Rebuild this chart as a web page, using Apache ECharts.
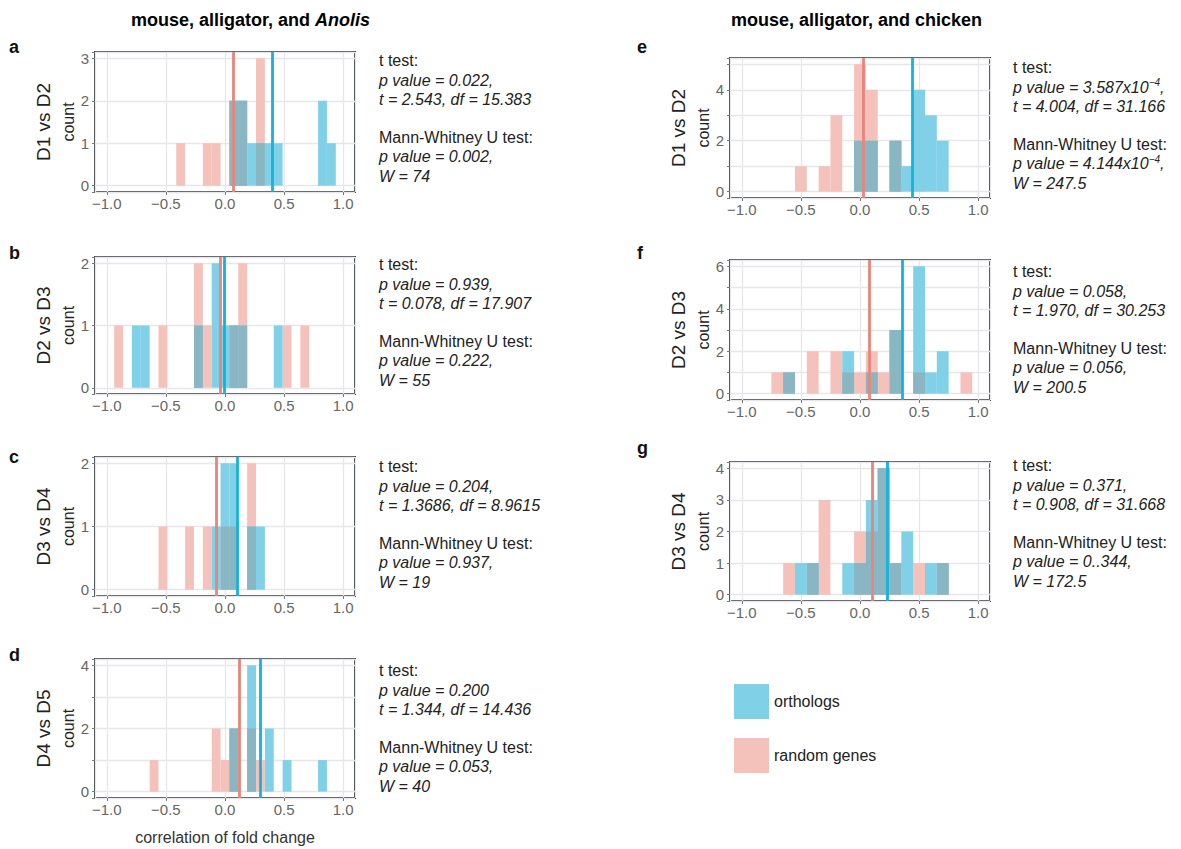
<!DOCTYPE html>
<html>
<head>
<meta charset="utf-8">
<title>correlation of fold change</title>
<script src="https://cdn.jsdelivr.net/npm/echarts@6/dist/echarts.min.js"></script>
<style>
  html, body { margin: 0; padding: 0; background: #fff; }
  #chart { width: 1181px; height: 849px; }
</style>
</head>
<body>
<div id="chart"></div>
<script>
// bin centres and counts
const aBins = [-0.375, -0.15, -0.075, 0.075, 0.15, 0.225, 0.3, 0.375, 0.45, 0.825, 0.9];
const aOrthologs = [0, 0, 0, 2, 2, 1, 1, 1, 1, 2, 1];
const aRandom = [1, 1, 1, 2, 2, 0, 3, 0, 0, 0, 0];
const aMeans = [0.07, 0.40]; // random genes, orthologs

const bBins = [-0.9, -0.75, -0.675, -0.525, -0.225, -0.15, -0.075, 0, 0.075, 0.15, 0.45, 0.525, 0.675];
const bOrthologs = [0, 1, 1, 0, 1, 0, 2, 1, 1, 1, 1, 0, 0];
const bRandom = [1, 0, 0, 1, 2, 1, 0, 0, 1, 2, 0, 1, 1];
const bMeans = [-0.035, -0.01];

const cBins = [-0.525, -0.3, -0.15, -0.075, 0, 0.075, 0.225, 0.3];
const cOrthologs = [0, 0, 0, 1, 2, 2, 1, 1];
const cRandom = [1, 1, 1, 0, 1, 1, 2, 0];
const cMeans = [-0.065, 0.10];

const dBins = [-0.6, -0.075, 0, 0.075, 0.225, 0.3, 0.375, 0.525, 0.825];
const dOrthologs = [0, 0, 0, 2, 4, 0, 2, 1, 1];
const dRandom = [1, 2, 1, 2, 2, 1, 0, 0, 0];
const dMeans = [0.115, 0.305];

const eBins = [-0.5, -0.3, -0.2, 0, 0.1, 0.3, 0.4, 0.5, 0.6, 0.7];
const eOrthologs = [0, 0, 0, 2, 2, 2, 1, 4, 3, 2];
const eRandom = [1, 1, 3, 5, 4, 2, 0, 0, 0, 0];
const eMeans = [0.03, 0.44];

const fBins = [-0.7, -0.6, -0.4, -0.2, -0.1, 0, 0.1, 0.2, 0.3, 0.5, 0.6, 0.7, 0.9];
const fOrthologs = [0, 1, 0, 0, 2, 0, 1, 0, 3, 6, 1, 2, 0];
const fRandom = [1, 1, 2, 2, 1, 1, 2, 1, 3, 1, 0, 0, 1];
const fMeans = [0.08, 0.365];

const gBins = [-0.6, -0.5, -0.4, -0.3, -0.1, 0, 0.1, 0.2, 0.3, 0.4, 0.5, 0.6, 0.7];
const gOrthologs = [0, 1, 1, 0, 1, 1, 3, 4, 1, 2, 0, 1, 1];
const gRandom = [1, 0, 1, 3, 0, 2, 2, 4, 1, 0, 1, 0, 1];
const gMeans = [0.105, 0.225];

// test results: t-test p, t/df, U-test p, W
const aStats = ['p value = 0.022,', 't = 2.543, df = 15.383', 'p value = 0.002,', 'W = 74'];
const bStats = ['p value = 0.939,', 't = 0.078, df = 17.907', 'p value = 0.222,', 'W = 55'];
const cStats = ['p value = 0.204,', 't = 1.3686, df = 8.9615', 'p value = 0.937,', 'W = 19'];
const dStats = ['p value = 0.200', 't = 1.344, df = 14.436', 'p value = 0.053,', 'W = 40'];
const eStats = ['p value = 3.587x10^-4,', 't = 4.004, df = 31.166', 'p value = 4.144x10^-4,', 'W = 247.5'];
const fStats = ['p value = 0.058,', 't = 1.970, df = 30.253', 'p value = 0.056,', 'W = 200.5'];
const gStats = ['p value = 0.371,', 't = 0.908, df = 31.668', 'p value = 0..344,', 'W = 172.5'];

const comparisons = ['D1 vs D2', 'D2 vs D3', 'D3 vs D4', 'D4 vs D5', 'D1 vs D2', 'D2 vs D3', 'D3 vs D4'];
const panelLetters = ['a', 'b', 'c', 'd', 'e', 'f', 'g'];
const yTop = [3, 2, 2, 4, 5, 6, 4];
const yLabelStep = [1, 1, 1, 2, 2, 2, 1];

const FONT = "'Liberation Sans', Arial, Helvetica, sans-serif";
const PINK = '#F4C2BA', BLUE = '#80D0E8', TEAL = '#8AB5C3';
const PINK_LINE = '#E8857A', BLUE_LINE = '#13B3DB';

const panels = [
  { bins: aBins, orth: aOrthologs, rand: aRandom, means: aMeans, stats: aStats, binW: 0.075, left: 95, top: 52, height: 140, textX: 379, textY: 51.4, labX: 43 },
  { bins: bBins, orth: bOrthologs, rand: bRandom, means: bMeans, stats: bStats, binW: 0.075, left: 95, top: 257, height: 137, textX: 379, textY: 255.4, labX: 43 },
  { bins: cBins, orth: cOrthologs, rand: cRandom, means: cMeans, stats: cStats, binW: 0.075, left: 95, top: 457, height: 139, textX: 379, textY: 457.4, labX: 43 },
  { bins: dBins, orth: dOrthologs, rand: dRandom, means: dMeans, stats: dStats, binW: 0.075, left: 95, top: 659, height: 139, textX: 379, textY: 661.4, labX: 43 },
  { bins: eBins, orth: eOrthologs, rand: eRandom, means: eMeans, stats: eStats, binW: 0.1, left: 730, top: 58, height: 140, textX: 1013, textY: 58.4, labX: 678 },
  { bins: fBins, orth: fOrthologs, rand: fRandom, means: fMeans, stats: fStats, binW: 0.1, left: 730, top: 260, height: 140, textX: 1013, textY: 262.4, labX: 678 },
  { bins: gBins, orth: gOrthologs, rand: gRandom, means: gMeans, stats: gStats, binW: 0.1, left: 730, top: 462, height: 139, textX: 1013, textY: 456.4, labX: 678 }
];
const letterY = [47, 253, 457, 655, 47, 253, 448];

function barRender(w, fill) {
  return function (params, api) {
    const n = api.value(1);
    if (!n) return null;
    const c = api.value(0);
    const tl = api.coord([c - w / 2, n]);
    const br = api.coord([c + w / 2, 0]);
    return {
      type: 'rect',
      shape: { x: tl[0], y: tl[1], width: br[0] - tl[0], height: br[1] - tl[1] },
      style: { fill: fill }
    };
  };
}

function xLabel(v) {
  const r = Math.round(v * 2) / 2;
  if (Math.abs(v - r) > 1e-6) return '';
  return (Math.abs(r) < 1e-9 ? 0 : r).toFixed(1).replace('-', '\u2212');
}

function statBlock(s) {
  const it = t => '{i|' + t.replace(/\^(-?\d+)/, (m, e) => '}{s|' + e.replace('-', '\u2212') + '}{i|') + '}';
  return ['{n|t test:}', it(s[0]), it(s[1]), '{n| }', '{n|Mann-Whitney U test:}', it(s[2]), it(s[3])].join('\n');
}

const grids = [], xAxes = [], yAxes = [], series = [], graphics = [];

panels.forEach((p, i) => {
  grids.push({ left: p.left, top: p.top, width: 260, height: p.height, show: true, borderColor: '#3d4447', borderWidth: 2 });
  xAxes.push({
    gridIndex: i, type: 'value', min: -1.1, max: 1.1, splitNumber: 4,
    axisLine: { show: false, onZero: false },
    axisTick: { show: true, length: 3, lineStyle: { color: '#777' } },
    axisLabel: { interval: 0, margin: 4, color: '#666', fontSize: 15, fontFamily: FONT, formatter: xLabel, showMinLabel: false, showMaxLabel: false },
    splitLine: { show: true, lineStyle: { color: '#e6e6eb', width: 1.3 } },
    name: i === 3 ? 'correlation of fold change' : '',
    nameLocation: 'middle', nameGap: 31,
    nameTextStyle: { color: '#333', fontSize: 16, fontFamily: FONT }
  });
  const step = yLabelStep[i];
  yAxes.push({
    gridIndex: i, type: 'value', min: -yTop[i] * 0.05, max: yTop[i] * 1.05, minInterval: 1,
    axisLine: { show: false, onZero: false },
    axisTick: { show: true, length: 3, lineStyle: { color: '#777' } },
    axisLabel: {
      interval: 0, margin: 6, color: '#666', fontSize: 15, fontFamily: FONT,
      formatter: v => {
        const r = Math.round(v);
        if (Math.abs(v - r) > 1e-6 || r < 0 || r % step !== 0) return '';
        return String(r);
      }
    },
    splitLine: { show: true, lineStyle: { color: '#e6e6eb', width: 1.3 } },
    name: 'count', nameLocation: 'middle', nameGap: 18, nameRotate: 90,
    nameTextStyle: { color: '#222', fontSize: 16, fontFamily: FONT }
  });

  const overlap = p.bins.map((c, k) => [c, Math.min(p.orth[k], p.rand[k])]);
  series.push({
    name: 'random genes', type: 'custom', xAxisIndex: i, yAxisIndex: i,
    itemStyle: { color: PINK }, renderItem: barRender(p.binW, PINK),
    encode: { x: 0, y: 1 }, data: p.bins.map((c, k) => [c, p.rand[k]])
  });
  series.push({
    name: 'orthologs', type: 'custom', xAxisIndex: i, yAxisIndex: i,
    itemStyle: { color: BLUE }, renderItem: barRender(p.binW, BLUE),
    encode: { x: 0, y: 1 }, data: p.bins.map((c, k) => [c, p.orth[k]])
  });
  series.push({
    name: 'both', type: 'custom', xAxisIndex: i, yAxisIndex: i,
    itemStyle: { color: TEAL }, renderItem: barRender(p.binW, TEAL),
    encode: { x: 0, y: 1 }, data: overlap
  });
  series.push({
    name: 'means', type: 'line', xAxisIndex: i, yAxisIndex: i, data: [],
    markLine: {
      silent: true, symbol: ['none', 'none'], label: { show: false },
      data: [
        { xAxis: p.means[0], lineStyle: { color: PINK_LINE, width: 2.8, type: 'solid' } },
        { xAxis: p.means[1], lineStyle: { color: BLUE_LINE, width: 2.8, type: 'solid' } }
      ]
    }
  });

  graphics.push({
    type: 'text', x: p.textX, y: p.textY,
    style: {
      text: statBlock(p.stats), verticalAlign: 'top', align: 'left',
      fontFamily: FONT, fontSize: 16, fill: '#222', lineHeight: 19.2,
      rich: {
        n: { fontFamily: FONT, fontSize: 16, color: '#222', lineHeight: 19.2 },
        i: { fontFamily: FONT, fontSize: 16, color: '#222', lineHeight: 19.2, fontStyle: 'italic' },
        s: { fontFamily: FONT, fontSize: 10, color: '#222', lineHeight: 9, fontStyle: 'italic', verticalAlign: 'top' }
      }
    }
  });
  graphics.push({
    type: 'text', x: p.labX, y: p.top + p.height / 2, rotation: Math.PI / 2,
    style: { text: comparisons[i], align: 'center', verticalAlign: 'middle', fontFamily: FONT, fontSize: 19, fill: '#222' }
  });
  graphics.push({
    type: 'text', x: i < 4 ? 9 : 637, y: letterY[i],
    style: { text: panelLetters[i], align: 'left', verticalAlign: 'middle', fontFamily: FONT, fontSize: 18, fontWeight: 'bold', fill: '#111' }
  });
});

const titleRich = {
  b: { fontFamily: FONT, fontSize: 18, fontWeight: 'bold', color: '#111' },
  bi: { fontFamily: FONT, fontSize: 18, fontWeight: 'bold', fontStyle: 'italic', color: '#111' }
};
graphics.push({
  type: 'text', x: 131, y: 20,
  style: { text: '{b|mouse, alligator, and }{bi|Anolis}', rich: titleRich, align: 'left', verticalAlign: 'middle' }
});
graphics.push({
  type: 'text', x: 731, y: 20,
  style: { text: '{b|mouse, alligator, and chicken}', rich: titleRich, align: 'left', verticalAlign: 'middle' }
});

const chart = echarts.init(document.getElementById('chart'), null, { renderer: 'svg' });
chart.setOption({
  animation: false,
  backgroundColor: '#fff',
  grid: grids,
  xAxis: xAxes,
  yAxis: yAxes,
  legend: {
    data: ['orthologs', 'random genes'],
    orient: 'vertical', left: 729, top: 679,
    itemWidth: 35, itemHeight: 35, itemGap: 19, icon: 'rect',
    selectedMode: false,
    textStyle: { color: '#222', fontSize: 16, fontFamily: FONT }
  },
  graphic: graphics,
  series: series
});
</script>
</body>
</html>
